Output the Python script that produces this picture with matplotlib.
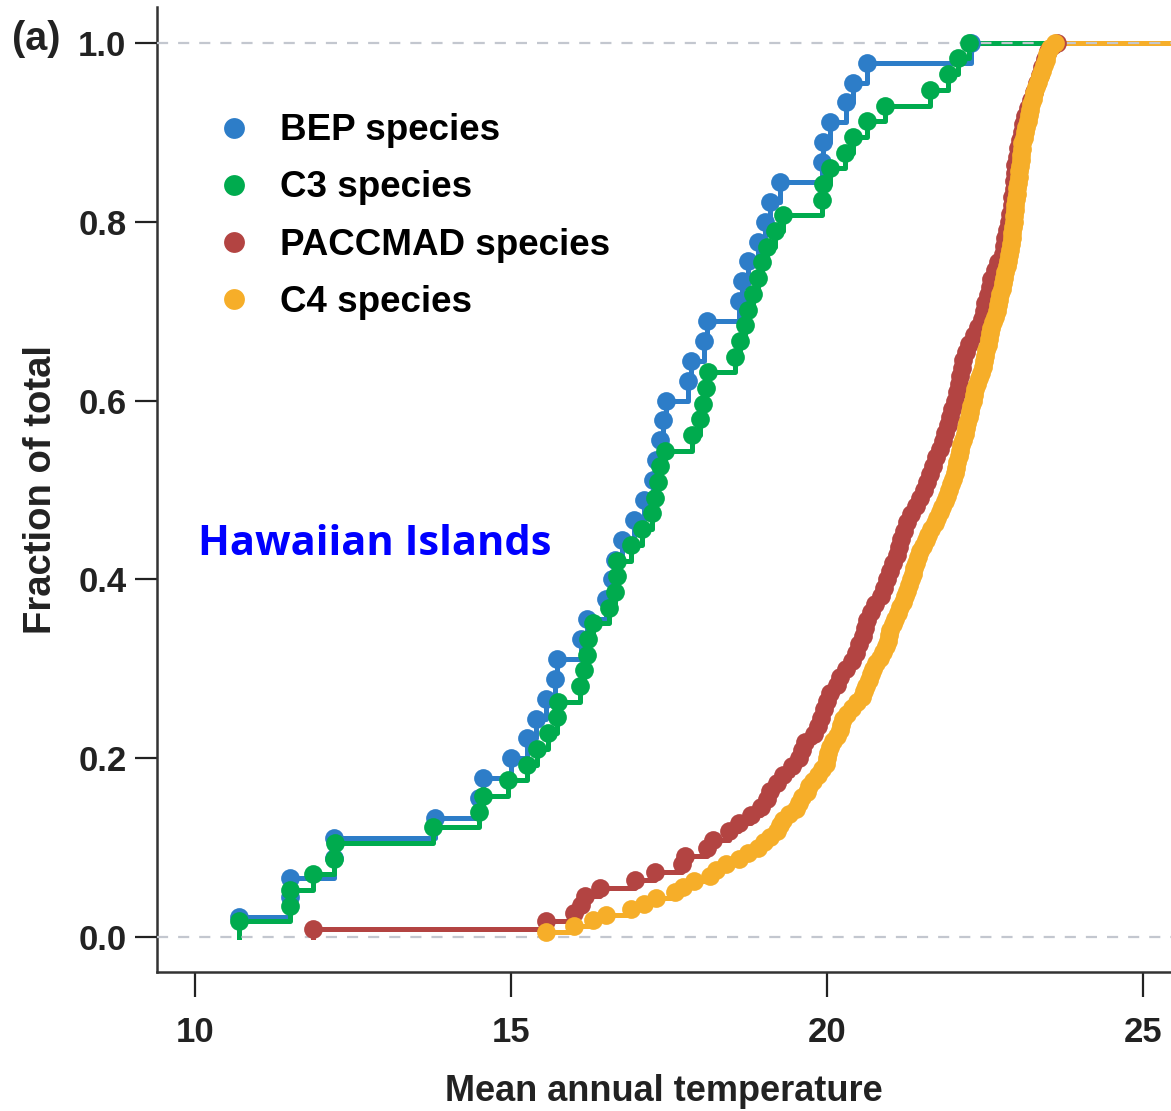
import matplotlib
matplotlib.use('Agg')
import matplotlib.pyplot as plt
import numpy as np

plt.rcParams['font.family'] = ['Liberation Sans', 'DejaVu Sans']
plt.rcParams['font.weight'] = 'bold'

# mean annual temperature of each species, sorted
bep = [10.7, 11.5, 11.5, 12.2, 12.2, 13.8, 14.5, 14.55, 15.0, 15.25,
       15.4, 15.55, 15.7, 15.72, 16.1, 16.2, 16.5, 16.6, 16.65, 16.75,
       16.95, 17.1, 17.25, 17.3, 17.35, 17.4, 17.45, 17.8, 17.85, 18.05,
       18.1, 18.6, 18.65, 18.75, 18.9, 19.02, 19.1, 19.26, 19.92, 19.94,
       20.05, 20.3, 20.41, 20.63, 22.28]

c3 = [10.7, 11.5, 11.5, 11.87, 12.2, 12.22, 13.77, 14.5, 14.56, 14.95,
      15.25, 15.41, 15.59, 15.73, 15.75, 16.09, 16.15, 16.2, 16.22, 16.3,
      16.55, 16.65, 16.67, 16.68, 16.9, 17.07, 17.23, 17.28, 17.33, 17.36,
      17.44, 17.86, 17.99, 18.04, 18.08, 18.12, 18.54, 18.62, 18.7, 18.75,
      18.82, 18.9, 18.97, 19.05, 19.18, 19.3, 19.92, 19.94, 20.05, 20.28,
      20.41, 20.63, 20.92, 21.63, 21.91, 22.07, 22.25]

paccmad = [11.87, 15.55, 16.0, 16.1, 16.17, 16.4, 16.96, 17.28, 17.7, 17.75,
           18.1, 18.2, 18.45, 18.6, 18.8, 18.95, 19.05, 19.1, 19.2, 19.3,
           19.45, 19.55, 19.6, 19.65, 19.8, 19.85, 19.9, 19.95, 20.0, 20.05,
           20.15, 20.2, 20.3, 20.4, 20.45, 20.5, 20.57, 20.6, 20.63, 20.7,
           20.75, 20.85, 20.9, 20.95, 21.0, 21.05, 21.1, 21.13, 21.17, 21.22,
           21.27, 21.32, 21.4, 21.47, 21.53, 21.58, 21.62, 21.68, 21.73, 21.78,
           21.83, 21.87, 21.92, 21.95, 21.98, 22.02, 22.05, 22.08, 22.1, 22.13,
           22.15, 22.2, 22.25, 22.32, 22.38, 22.45, 22.48, 22.5, 22.55, 22.58,
           22.6, 22.65, 22.7, 22.78, 22.8, 22.82, 22.85, 22.87, 22.9, 22.92,
           22.93, 22.95, 22.96, 22.97, 22.98, 23.0, 23.02, 23.05, 23.08, 23.1,
           23.13, 23.18, 23.22, 23.27, 23.32, 23.36, 23.4, 23.45, 23.5, 23.64]

c4 = [15.55, 16.0, 16.3, 16.5, 16.9, 17.1, 17.3, 17.6, 17.72, 17.9,
      18.15, 18.25, 18.4, 18.6, 18.75, 18.9, 19.0, 19.1, 19.2, 19.25,
      19.3, 19.4, 19.5, 19.55, 19.6, 19.68, 19.72, 19.78, 19.85, 19.92,
      19.98, 20.0, 20.02, 20.05, 20.1, 20.15, 20.2, 20.22, 20.25, 20.32,
      20.4, 20.48, 20.55, 20.58, 20.62, 20.66, 20.7, 20.73, 20.78, 20.83,
      20.88, 20.93, 20.96, 20.98, 21.0, 21.04, 21.08, 21.12, 21.15, 21.2,
      21.24, 21.27, 21.3, 21.33, 21.36, 21.38, 21.41, 21.44, 21.47, 21.52,
      21.56, 21.6, 21.65, 21.7, 21.74, 21.78, 21.82, 21.86, 21.9, 21.93,
      21.96, 21.99, 22.02, 22.04, 22.06, 22.08, 22.1, 22.12, 22.15, 22.18,
      22.2, 22.22, 22.24, 22.26, 22.28, 22.3, 22.32, 22.34, 22.37, 22.4,
      22.43, 22.46, 22.48, 22.5, 22.52, 22.54, 22.56, 22.58, 22.6, 22.62,
      22.65, 22.68, 22.7, 22.72, 22.74, 22.76, 22.78, 22.8, 22.82, 22.84,
      22.86, 22.88, 22.9, 22.91, 22.92, 22.93, 22.94, 22.95, 22.96, 22.97,
      22.98, 22.99, 23.0, 23.01, 23.02, 23.03, 23.04, 23.05, 23.06, 23.07,
      23.08, 23.09, 23.11, 23.13, 23.15, 23.17, 23.19, 23.21, 23.23, 23.26,
      23.28, 23.31, 23.34, 23.37, 23.4, 23.43, 23.46, 23.48, 23.52, 23.6]

labels = ['BEP species', 'C3 species', 'PACCMAD species', 'C4 species']
colors = ['#2d7dc8', '#00ab4e', '#b34442', '#f6ae29']
series = [bep, c3, paccmad, c4]
draw_order = [0, 1, 3, 2]

x_right = 25.44

fig = plt.figure(figsize=(11.71, 11.11), dpi=100)
ax = fig.add_axes([0.1341, 0.1251, 0.8659, 0.8686])

for i in draw_order:
    x = np.array(series[i])
    y = np.arange(1, len(x) + 1) / len(x)
    xs = np.concatenate([[x[0]], x, [x_right + 1]])
    ys = np.concatenate([[0], y, [1.0]])
    ax.plot(xs, ys, drawstyle='steps-post', color=colors[i], lw=3.6, zorder=2 + i * 0.1)
    ax.plot(x, y, 'o', color=colors[i], ms=13.5, mec='none', zorder=4 + i * 0.1)

for yy in [0, 1]:
    ax.axhline(yy, color='#c3c7cf', lw=1.6, ls=(0, (5, 4.5)), zorder=3)

# legend
handles = [plt.Line2D([], [], ls='none', marker='o', ms=15, mec='none', color=c) for c in colors]
ax.legend(handles, labels, loc='upper left', bbox_to_anchor=(0.025, 0.905), frameon=False,
          prop={'size': 26.5, 'weight': 'bold'}, handletextpad=0.25, labelspacing=0.6,
          borderaxespad=0)

ax.text(0.04, 0.432, 'Hawaiian Islands', transform=ax.transAxes, color='#0000ff',
        fontsize=30, fontweight='bold', family=['Open Sans', 'DejaVu Sans'])

ax.set_xlim(9.4, x_right)
ax.set_ylim(-0.039, 1.04)
ax.set_xticks([10, 15, 20, 25])
ax.set_yticks([0.0, 0.2, 0.4, 0.6, 0.8, 1.0])
ax.set_yticklabels(['0.0', '0.2', '0.4', '0.6', '0.8', '1.0'])
ax.tick_params(axis='both', labelsize=25, width=1.6, colors='#222222', direction='out')
ax.tick_params(axis='y', length=16, pad=6)
ax.tick_params(axis='x', length=18, pad=14)
ax.spines['top'].set_visible(False)
ax.spines['right'].set_visible(False)
for s in ['left', 'bottom']:
    ax.spines[s].set_linewidth(1.8)
    ax.spines[s].set_color('#333333')

ax.set_xlabel('Mean annual temperature', fontsize=26, fontweight='bold', color='#222222', labelpad=18)
ax.set_ylabel('Fraction of total', fontsize=27.5, fontweight='bold', color='#222222', labelpad=14)

fig.text(0.01, 0.955, '(a)', fontsize=28.5, fontweight='bold', color='#222222')

fig.savefig('out.png', dpi=100)
